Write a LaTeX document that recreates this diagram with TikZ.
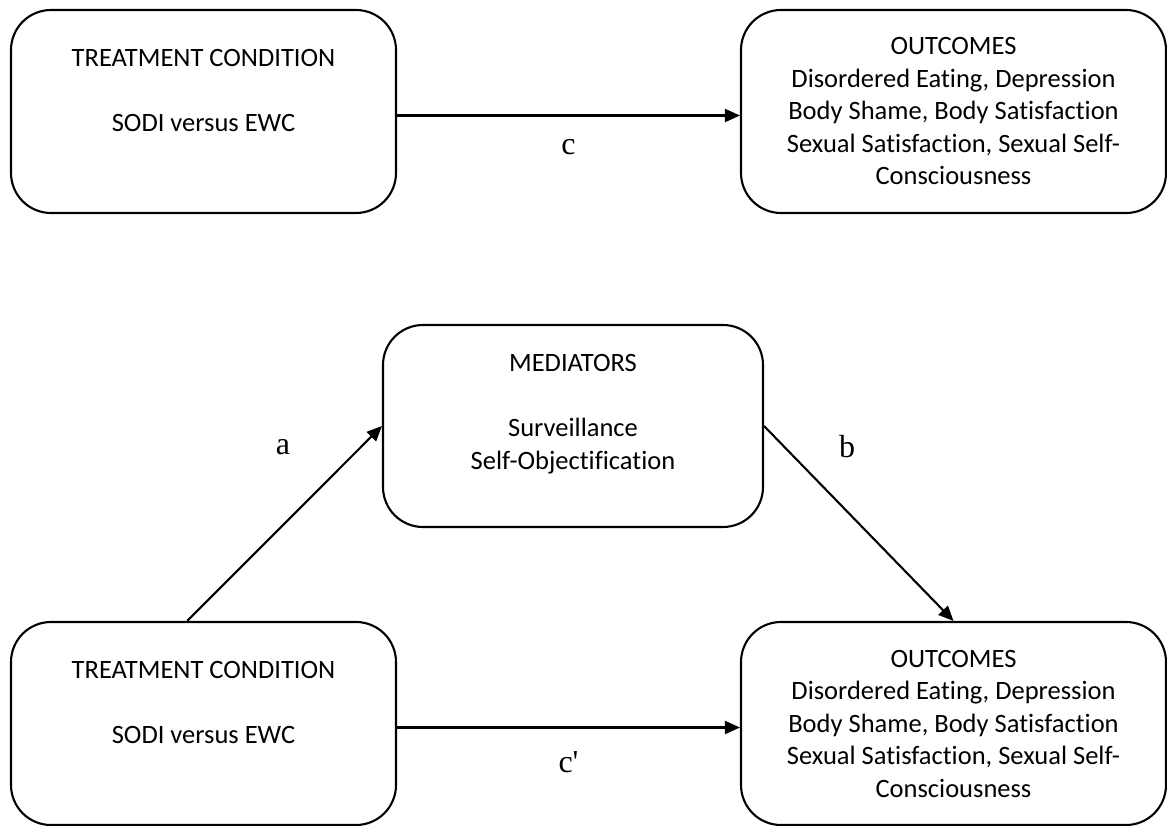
\documentclass[tikz,border=0pt]{standalone}
\usepackage{fontspec}
\setmainfont{Carlito}[Ligatures={NoCommon}]
\newfontfamily\pathfont{Liberation Serif}
\usetikzlibrary{arrows.meta}

\def \boxLine {2.1pt}
\def \boxRound {40pt}

\begin{document}
\begin{tikzpicture}[x=1pt, y=-1pt,
      box/.style={draw, line width=\boxLine, rounded corners=\boxRound, align=center,
         inner sep=0pt, font=\fontsize{26.5}{32.5}\selectfont},
      arr/.style={line width=\boxLine, -{Triangle[length=15pt,width=13pt]}},
      pathlbl/.style={font=\pathfont\fontsize{32}{34}\selectfont}]
         \useasboundingbox (0,0) rectangle (1167,826);
         % top: total effect
         \node[box, minimum width=385, minimum height=203] (treatA) at (203.5,111.5)
            {TREATMENT CONDITION\\ \\SODI versus EWC\\ \strut};
         \node[box, minimum width=425, minimum height=203] (outA) at (953.5,111.5)
            {OUTCOMES\\Disordered Eating, Depression\\Body Shame, Body Satisfaction\\Sexual Satisfaction, Sexual Self-\\Consciousness};
         \draw[arr] ([yshift=-4pt]treatA.east) -- ([yshift=-4pt]outA.west)
            node[midway, below=20pt, pathlbl] (lc) {c};
         % bottom: mediated model
         \node[box, minimum width=380, minimum height=202] (med) at (573,426)
            {MEDIATORS\\ \\Surveillance\\Self-Objectification\\[-14pt] \strut};
         \node[box, minimum width=385, minimum height=203] (treatB) at (203.5,723.5)
            {TREATMENT CONDITION\\ \\SODI versus EWC\\ \strut};
         \node[box, minimum width=425, minimum height=203] (outB) at (953.5,723.5)
            {OUTCOMES\\Disordered Eating, Depression\\Body Shame, Body Satisfaction\\Sexual Satisfaction, Sexual Self-\\Consciousness};
         \draw[arr] (treatB.99) -- (med.west);
         \draw[arr] (med.east) -- (outB.north);
         \draw[arr] ([yshift=-4pt]treatB.east) -- ([yshift=-4pt]outB.west)
            node[midway, below=20pt, pathlbl] (lcp) {c'};
         \node[pathlbl] (la) at (283,447) {a};
         \node[pathlbl] (lb) at (847,447) {b};
      \end{tikzpicture}
\end{document}
